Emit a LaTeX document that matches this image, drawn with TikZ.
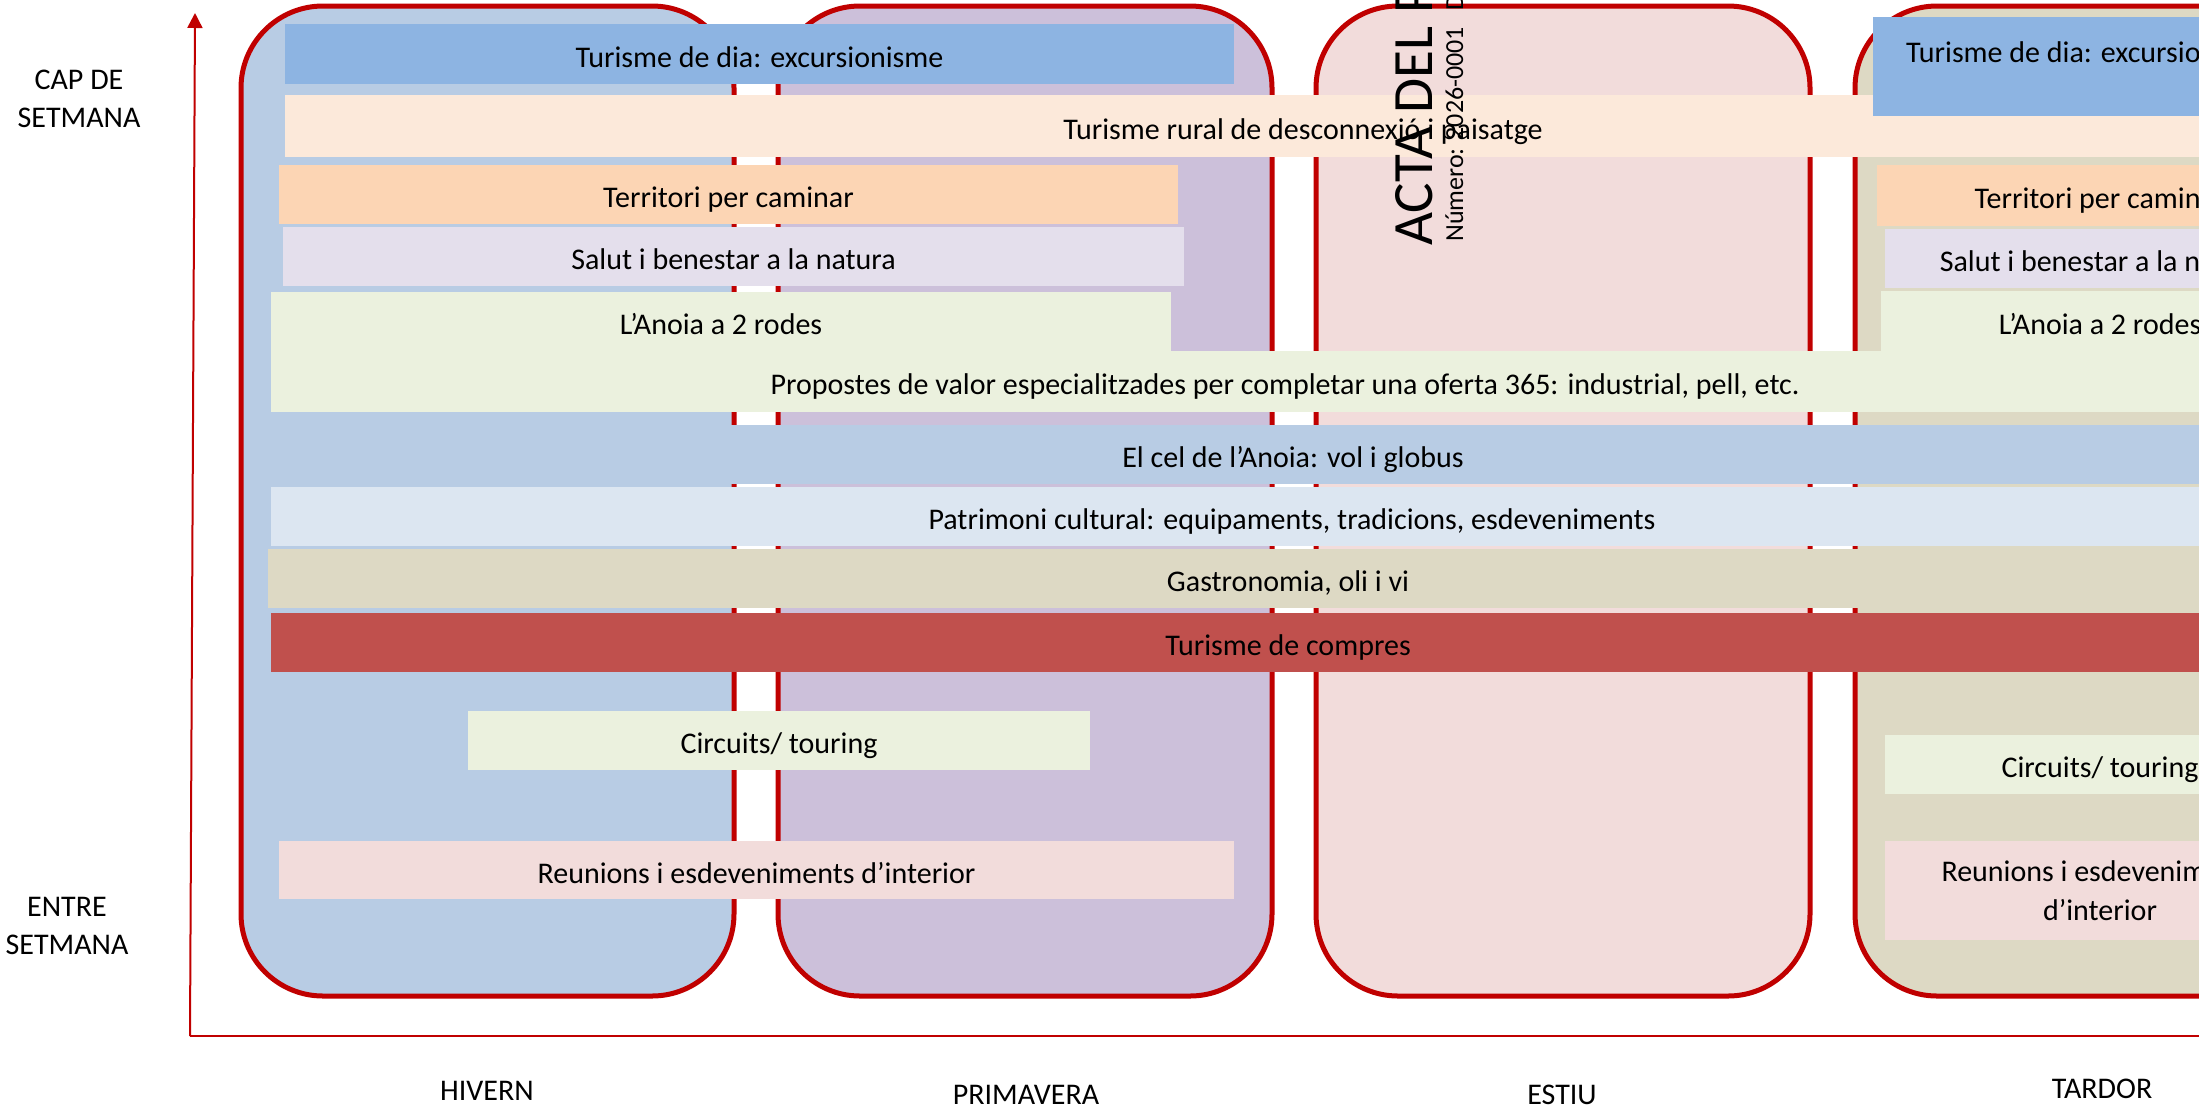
\documentclass[tikz,border=0pt]{standalone}
\usepackage{fontspec}
\setmainfont{Carlito}
\usetikzlibrary{arrows.meta}
\definecolor{boxred}{HTML}{C00000}
\definecolor{hivc}{HTML}{B8CCE4}
\definecolor{pric}{HTML}{CCC0DA}
\definecolor{estc}{HTML}{F2DCDB}
\definecolor{tarc}{HTML}{DDD9C4}
\definecolor{cdia}{HTML}{8DB4E2}
\definecolor{crural}{HTML}{FCE9DA}
\definecolor{cterr}{HTML}{FCD5B4}
\definecolor{csalut}{HTML}{E4DFEC}
\definecolor{cgreen}{HTML}{EBF1DE}
\definecolor{ccel}{HTML}{B8CCE4}
\definecolor{cpatr}{HTML}{DCE6F1}
\definecolor{cgastr}{HTML}{DDD9C4}
\definecolor{ccompr}{HTML}{C0504D}
\definecolor{creun}{HTML}{F2DCDB}
% #1 extra options, #2 name, #3 colour, #4 x1, #5 y1, #6 x2, #7 y2, #8 text
\newcommand\mkbar[8][]{%
  \node[barbox, fill=#3, minimum width={(#6-#4)*0.5pt}, minimum height={(#7-#5)*0.5pt}, #1]
    (#2) at ({(#4+#6)/2},{(#5+#7)/2}) {#8};}
% #1 name, #2 colour, #3 x1, #4 y1, #5 x2, #6 y2
\newcommand\mkseason[6]{%
  \node[season, fill=#2, minimum width={(#5-#3)*0.5pt}, minimum height={(#6-#4)*0.5pt}]
    (#1) at ({(#3+#5)/2},{(#4+#6)/2}) {};}
\begin{document}
\begin{tikzpicture}[x=0.5pt,y=-0.5pt,
  season/.style={draw=boxred, line width=2.5pt, rounded corners=41pt, inner sep=0pt, outer sep=0pt},
  barbox/.style={inner sep=0pt, outer sep=0pt, text height=13.5pt, text depth=0.45pt, font=\fontsize{15}{19.5}\selectfont},
  twoline/.style={text height=, text depth=, align=center},
  axisline/.style={draw=boxred, line width=1pt},
  sidelbl/.style={align=center, inner sep=0pt, font=\fontsize{15}{19}\selectfont},
  seasonlbl/.style={anchor=base, inner sep=0pt, font=\fontsize{15}{19}\selectfont},
  wmark/.style={rotate=90, anchor=base west, inner sep=0pt},
]
\useasboundingbox (0,0) rectangle (2199,1109);
\clip (0,0) rectangle (2199,1109);
% season boxes
\mkseason{hiv}{hivc}{241}{6}{734}{996}
\mkseason{pri}{pric}{778}{6}{1272}{996}
\mkseason{est}{estc}{1316}{6}{1810}{996}
\mkseason{tar}{tarc}{1855}{6}{2349}{996}
% axes
\coordinate (orig) at (190,1036);
\coordinate (ytop) at (195,13);
\coordinate (xend) at (2215,1036);
\draw[axisline, -{Triangle[length=7.5pt,width=7.5pt]}] (orig) -- (ytop);
\draw[axisline] (orig) -- (xend);
% bars
\mkbar{tdia}{cdia}{285}{24}{1234}{84}{Turisme de dia: excursionisme}
\mkbar{rural}{crural}{285}{95}{2321}{157}{Turisme rural de desconnexió i paisatge}
\mkbar{terr}{cterr}{279}{165}{1178}{224}{Territori per caminar}
\mkbar{salut}{csalut}{283}{227}{1184}{286}{Salut i benestar a la natura}
\mkbar{anoia}{cgreen}{271}{292}{1171}{351}{L’Anoia a 2 rodes}
\mkbar{prop}{cgreen}{271}{351}{2299}{412}{Propostes de valor especialitzades per completar una oferta 365: industrial, pell, etc.}
\mkbar{cel}{ccel}{271}{425}{2315}{484}{El cel de l’Anoia: vol i globus}
\mkbar{patr}{cpatr}{271}{487}{2313}{546}{Patrimoni cultural: equipaments, tradicions, esdeveniments}
\mkbar{gastr}{cgastr}{268}{549}{2308}{608}{Gastronomia, oli i vi}
\mkbar{compr}{ccompr}{271}{613}{2305}{672}{Turisme de compres}
\mkbar{circ}{cgreen}{468}{711}{1090}{770}{Circuits/ touring}
\mkbar{reun}{creun}{279}{841}{1234}{899}{Reunions i esdeveniments d’interior}
% tardor bars
\mkbar{tdiab}{cdia}{1873}{17}{2307}{116}{}
\node[anchor=base, inner sep=0pt, font=\fontsize{15}{19}\selectfont] (tdiabt) at (2090,62) {Turisme de dia: excursionisme};
\mkbar{terrb}{cterr}{1877}{165}{2323}{226}{Territori per caminar}
\mkbar{salutb}{csalut}{1885}{229}{2319}{288}{Salut i benestar a la natura}
\mkbar{anoiab}{cgreen}{1881}{291}{2319}{351}{L’Anoia a 2 rodes}
\mkbar{circb}{cgreen}{1885}{735}{2315}{794}{Circuits/ touring}
\mkbar[twoline]{reunb}{creun}{1885}{841}{2315}{940}{Reunions i esdeveniments\\d’interior}
% side labels
\node[sidelbl] (cap) at (79,99) {CAP DE\\SETMANA};
\node[sidelbl] (entre) at (67,926) {ENTRE\\SETMANA};
\node[seasonlbl] (lhiv) at (487,1100) {HIVERN};
\node[seasonlbl] (lpri) at (1026,1104) {PRIMAVERA};
\node[seasonlbl] (lest) at (1562,1104) {ESTIU};
\node[seasonlbl] (ltar) at (2102,1098) {TARDOR};
% watermark
\node[wmark, font=\fontsize{28.5}{30}\selectfont] (wm) at (1432,246) {ACTA DEL P};
\node[wmark, font=\fontsize{13}{14}\selectfont] (wmn) at (1463,242) {Número: 2026-0001\hspace{8pt}D};
\end{tikzpicture}
\end{document}
